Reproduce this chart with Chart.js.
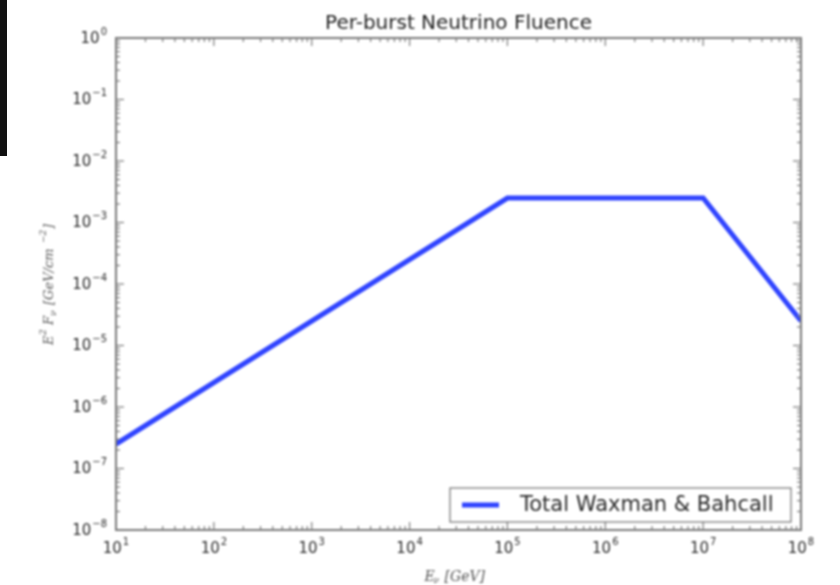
<!DOCTYPE html>
<html>
<head>
<meta charset="utf-8">
<script src="https://cdn.jsdelivr.net/npm/chart.js@4.4.1/dist/chart.umd.min.js"></script>
<style>
  html, body { margin: 0; padding: 0; background: #fff; }
  #wrap { position: relative; width: 840px; height: 585px; }
  #fluence { filter: blur(0.8px); }
  #edge { position: absolute; left: 0; top: 0; width: 7px; height: 156px; background: #111; filter: blur(0.6px); }
</style>
</head>
<body>
<div id="wrap">
  <canvas id="fluence" width="840" height="585"></canvas>
  <div id="edge"></div>
</div>
<script>
// broken power-law fluence, GeV
const energies = [1e1, 1e5, 1e7, 1e8];
const fluence = [2.5e-7, 2.5e-3, 2.5e-3, 2.5e-5];
const seriesName = 'Total Waxman & Bahcall';

const xTicks = [1e1, 1e2, 1e3, 1e4, 1e5, 1e6, 1e7, 1e8];
const xTickLabels = ['10¹', '10²', '10³', '10⁴', '10⁵', '10⁶', '10⁷', '10⁸'];
const yTicks = [1e-8, 1e-7, 1e-6, 1e-5, 1e-4, 1e-3, 1e-2, 1e-1, 1e0];
const yTickLabels = ['10⁻⁸', '10⁻⁷', '10⁻⁶', '10⁻⁵', '10⁻⁴', '10⁻³', '10⁻²', '10⁻¹', '10⁰'];

const lineColor = '#2f43ff';
const frameColor = '#7a7a7a';
const textColor = '#2a2a2a';

const SUP = { '⁰': '0', '¹': '1', '²': '2', '³': '3', '⁴': '4', '⁵': '5', '⁶': '6', '⁷': '7', '⁸': '8', '⁹': '9', '⁻': '−' };

function labelFor(ticks, labels, v) {
    const i = ticks.findIndex(t => Math.abs(Math.log10(t) - Math.log10(v)) < 1e-6);
    return i >= 0 ? labels[i] : '';
}

// split '10⁻³' into base '10' and exponent '−3'
function splitPower(label) {
    return { base: label.slice(0, 2), exp: [...label.slice(2)].map(c => SUP[c] || c).join('') };
}

// draws "10" with a raised exponent; align: 'center' or 'right'
function drawPower(ctx, label, x, y, align) {
    const p = splitPower(label);
    ctx.font = '15px "DejaVu Sans"';
    const bw = ctx.measureText(p.base).width;
    ctx.font = '10px "DejaVu Sans"';
    const ew = ctx.measureText(p.exp).width + 1;
    const left = align === 'right' ? x - bw - ew : x - (bw + ew) / 2;
    ctx.textAlign = 'left';
    ctx.textBaseline = 'middle';
    ctx.font = '15px "DejaVu Sans"';
    ctx.fillText(p.base, left, y);
    ctx.font = '10px "DejaVu Sans"';
    ctx.fillText(p.exp, left + bw + 1, y - 7);
}

// frame, inward ticks, tick labels, legend, title and axis labels in matplotlib style
const decorations = {
    id: 'decorations',
    afterDraw(chart) {
        const ctx = chart.ctx;
        const a = chart.chartArea;
        const xs = chart.scales.x, ys = chart.scales.y;
        ctx.save();

        ctx.strokeStyle = frameColor;
        ctx.lineWidth = 2;
        ctx.strokeRect(a.left, a.top, a.right - a.left, a.bottom - a.top);

        ctx.lineWidth = 1.2;
        const tick = (x1, y1, x2, y2) => { ctx.beginPath(); ctx.moveTo(x1, y1); ctx.lineTo(x2, y2); ctx.stroke(); };
        for (let d = 1; d < 8; d++) {
            for (let m = 1; m < 10; m++) {
                const px = xs.getPixelForValue(m * Math.pow(10, d));
                const len = m === 1 ? 8 : 4;
                tick(px, a.bottom, px, a.bottom - len);
                tick(px, a.top, px, a.top + len);
            }
        }
        for (let d = -8; d < 0; d++) {
            for (let m = 1; m < 10; m++) {
                const py = ys.getPixelForValue(m * Math.pow(10, d));
                const len = m === 1 ? 8 : 4;
                tick(a.left, py, a.left + len, py);
                tick(a.right, py, a.right - len, py);
            }
        }

        // tick labels
        ctx.fillStyle = textColor;
        xTicks.forEach((v, i) => drawPower(ctx, xTickLabels[i], xs.getPixelForValue(v), a.bottom + 19, 'center'));
        yTicks.forEach((v, i) => drawPower(ctx, yTickLabels[i], a.left - 9, ys.getPixelForValue(v) + 1, 'right'));

        // legend
        const lx = 450, ly = 488, lw = 341, lh = 34;
        ctx.fillStyle = '#fff';
        ctx.fillRect(lx, ly, lw, lh);
        ctx.strokeStyle = '#555';
        ctx.lineWidth = 1;
        ctx.strokeRect(lx, ly, lw, lh);
        ctx.strokeStyle = lineColor;
        ctx.lineWidth = 5;
        tick(462, ly + 17, 499, ly + 17);
        ctx.fillStyle = textColor;
        ctx.font = '21px "DejaVu Sans"';
        ctx.textBaseline = 'middle';
        ctx.textAlign = 'left';
        ctx.fillText(chart.data.datasets[0].label, 520, ly + 18);

        // title
        ctx.font = '20px "DejaVu Sans"';
        ctx.textAlign = 'center';
        ctx.fillStyle = '#222';
        ctx.fillText('Per-burst Neutrino Fluence', (a.left + a.right) / 2, 24);

        // x label: E_ν [GeV]
        const cx = (a.left + a.right) / 2;
        ctx.fillStyle = '#555';
        ctx.font = 'italic 14px "DejaVu Serif"';
        ctx.textAlign = 'left';
        ctx.fillText('E', cx - 34, 577);
        ctx.font = 'italic 9px "DejaVu Serif"';
        ctx.fillText('ν', cx - 25, 581);
        ctx.font = 'italic 14px "DejaVu Serif"';
        ctx.fillText('[GeV]', cx - 14, 577);

        // y label: E² F_ν [GeV/cm⁻²]
        ctx.translate(50, (a.top + a.bottom) / 2);
        ctx.rotate(-Math.PI / 2);
        ctx.textAlign = 'left';
        const x0 = -61;
        ctx.font = 'italic 13px "DejaVu Serif"';
        ctx.fillText('E', x0, 0);
        ctx.font = 'italic 9px "DejaVu Serif"';
        ctx.fillText('2', x0 + 10, -6);
        ctx.font = 'italic 13px "DejaVu Serif"';
        ctx.fillText('F', x0 + 20, 0);
        ctx.font = 'italic 9px "DejaVu Serif"';
        ctx.fillText('ν', x0 + 29, 4);
        ctx.font = 'italic 13px "DejaVu Serif"';
        ctx.fillText('[GeV/cm', x0 + 40, 0);
        ctx.font = 'italic 9px "DejaVu Serif"';
        ctx.fillText('−2', x0 + 102, -6);
        ctx.font = 'italic 13px "DejaVu Serif"';
        ctx.fillText(']', x0 + 116, 0);

        ctx.restore();
    }
};

new Chart(document.getElementById('fluence').getContext('2d'), {
    type: 'line',
    data: {
        datasets: [{
            label: seriesName,
            data: energies.map((e, i) => ({ x: e, y: fluence[i] })),
            borderColor: lineColor,
            borderWidth: 5,
            pointRadius: 0,
            tension: 0,
            fill: false
        }]
    },
    options: {
        responsive: false,
        animation: false,
        layout: { padding: { top: 38, right: 39, left: 0, bottom: 0 } },
        plugins: {
            legend: { display: false },
            title: { display: false },
            tooltip: { enabled: false }
        },
        scales: {
            // axis labels are painted by the plugin, so the scale text stays invisible
            x: {
                type: 'logarithmic',
                min: 1e1,
                max: 1e8,
                grid: { display: false },
                border: { display: false },
                afterBuildTicks: s => { s.ticks = xTicks.map(v => ({ value: v })); },
                afterFit: s => { s.height = 55; },
                ticks: {
                    autoSkip: false,
                    maxRotation: 0,
                    color: 'rgba(0,0,0,0)',
                    font: { family: 'DejaVu Sans', size: 15 },
                    callback: v => labelFor(xTicks, xTickLabels, v)
                }
            },
            y: {
                type: 'logarithmic',
                min: 1e-8,
                max: 1e0,
                grid: { display: false },
                border: { display: false },
                afterBuildTicks: s => { s.ticks = yTicks.map(v => ({ value: v })); },
                afterFit: s => { s.width = 116; },
                ticks: {
                    autoSkip: false,
                    color: 'rgba(0,0,0,0)',
                    font: { family: 'DejaVu Sans', size: 15 },
                    callback: v => labelFor(yTicks, yTickLabels, v)
                }
            }
        }
    },
    plugins: [decorations]
});
</script>
</body>
</html>
